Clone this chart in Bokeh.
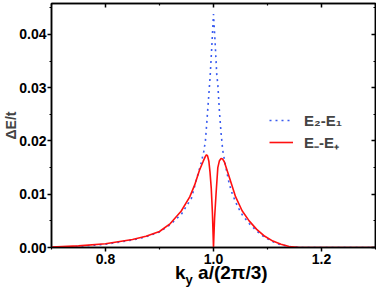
from bokeh.plotting import figure
from bokeh.models import (Range1d, LinearAxis, FixedTicker, NumeralTickFormatter,
                          Legend, LegendItem, Div)
from bokeh.layouts import column
from bokeh.embed import file_html
from bokeh.resources import INLINE

# E2-E1 (blue dotted)
kx_b = [0.70, 0.75, 0.80, 0.85, 0.875, 0.90, 0.92, 0.941, 0.950, 0.959, 0.968, 0.9775, 0.9805,
        0.982, 0.985, 0.988, 0.9927, 0.994, 0.997, 1.000, 1.003, 1.006, 1.008, 1.011,
        1.014, 1.017, 1.022, 1.029, 1.035, 1.045, 1.054, 1.066, 1.08, 1.095, 1.11,
        1.125, 1.14, 1.16, 1.20, 1.25, 1.30]
de_b = [0.0000, 0.0002, 0.0006, 0.0014, 0.0020, 0.0029, 0.0043, 0.0063, 0.0078, 0.0092, 0.0126,
        0.0160, 0.0174, 0.0180, 0.0200, 0.0240, 0.0306, 0.0325, 0.0380, 0.0438, 0.0385,
        0.0325, 0.0306, 0.0255, 0.0215, 0.0183, 0.0155, 0.0120, 0.0100, 0.0076, 0.0060,
        0.0045, 0.0031, 0.0019, 0.0011, 0.0005, 0.0002, 0.0000, 0.0000, 0.0000, 0.0000]

# E- - E+ (red solid)
kx_r = [0.70, 0.75, 0.80, 0.85, 0.875, 0.90, 0.92, 0.94, 0.956, 0.965, 0.974, 0.981, 0.985,
        0.987, 0.989, 0.9914, 0.9935, 0.9958, 0.998, 1.000, 1.002, 1.005, 1.008, 1.011,
        1.014, 1.017, 1.020, 1.029, 1.041, 1.053, 1.066, 1.08, 1.095, 1.11, 1.125, 1.14,
        1.16, 1.20, 1.25, 1.30]
de_r = [0.0001, 0.0003, 0.0007, 0.0015, 0.0021, 0.0030, 0.0045, 0.0068, 0.0095, 0.0117, 0.0145,
        0.0162, 0.0171, 0.0174, 0.0172, 0.0162, 0.0142, 0.0112, 0.0065, 0.0000, 0.0055,
        0.0105, 0.0150, 0.0163, 0.0167, 0.0166, 0.0161, 0.0133, 0.0095, 0.0069, 0.0050,
        0.0034, 0.0021, 0.0012, 0.0006, 0.0002, 0.0000, 0.0000, 0.0000, 0.0000]

x_major = [0.8, 1.0, 1.2]
x_minor = [0.7, 0.9, 1.1, 1.3]
y_major = [0.00, 0.01, 0.02, 0.03, 0.04]
y_minor = [0.005, 0.015, 0.025, 0.035, 0.045]
labels = ["E\u2082-E\u2081", "E\u208b-E\u208a"]

FONT = "Liberation Sans"

p = figure(output_backend="svg", toolbar_location=None,
           frame_width=324, frame_height=244,
           min_border_left=49, min_border_right=1, min_border_top=3, min_border_bottom=20,
           x_range=Range1d(0.7, 1.3), y_range=Range1d(0.0, 0.0458),
           x_axis_location=None, y_axis_location=None, margin=(0, 0, 0, 0))
p.grid.visible = False
p.outline_line_color = "black"
p.outline_line_width = 1.5
p.background_fill_color = "white"
p.border_fill_color = "white"

def style(ax, major, minor, fmt, labels_on, inward):
    ax.ticker = FixedTicker(ticks=major, minor_ticks=minor)
    ax.formatter = NumeralTickFormatter(format=fmt)
    ax.axis_line_width = 1.5
    ax.major_tick_line_width = 1.5
    ax.minor_tick_line_width = 1.2
    if inward:
        ax.major_tick_in = 4
        ax.major_tick_out = 0
        ax.minor_tick_in = 2
        ax.minor_tick_out = 0
    else:
        ax.major_tick_in = 0
        ax.major_tick_out = 4
        ax.minor_tick_in = 0
        ax.minor_tick_out = 2
    ax.major_label_text_font = FONT
    ax.major_label_text_font_style = "bold"
    ax.major_label_text_font_size = "14px"
    ax.major_label_text_color = "black"
    if not labels_on:
        ax.major_label_text_alpha = 0
        ax.major_label_text_font_size = "0px"
        ax.major_label_standoff = 0

xb = LinearAxis()
style(xb, x_major, x_minor, "0.0", True, False)
xb.major_label_standoff = 2
p.add_layout(xb, "below")

yl = LinearAxis(axis_label="\u0394E/t")
style(yl, y_major, y_minor, "0.00", True, False)
yl.major_label_standoff = 1
yl.axis_label_text_font = FONT
yl.axis_label_text_font_style = "bold"
yl.axis_label_text_font_size = "14px"
yl.axis_label_standoff = -3
p.add_layout(yl, "left")

xt = LinearAxis()
style(xt, x_major, x_minor, "0.0", False, True)
p.add_layout(xt, "above")

yr = LinearAxis()
style(yr, y_major, y_minor, "0.00", False, True)
p.add_layout(yr, "right")

rb = p.line(kx_b, de_b, line_color="#3a5cf0", line_width=1.6, line_dash="2 4")
rr = p.line(kx_r, de_r, line_color="#ff1010", line_width=1.6)

leg = Legend(items=[LegendItem(label=labels[0], renderers=[rb]),
                    LegendItem(label=labels[1], renderers=[rr])],
             location=(216, 93), border_line_alpha=0, background_fill_alpha=0,
             glyph_width=24, glyph_height=20, label_height=20, spacing=2, padding=2,
             label_standoff=11, label_text_font=FONT, label_text_font_style="bold",
             label_text_font_size="15px", margin=0)
p.add_layout(leg, "center")

xlabel = Div(
    text='<span style="position:relative;top:-3px;padding-left:175px">k<sub style="font-size:13px;line-height:0">y</sub>'
         ' a/(2\u03c0/3)</span>',
    width=374, height=16, margin=(0, 0, 0, 0),
    styles={"font-family": FONT, "font-weight": "bold", "font-size": "19px",
            "line-height": "17px", "color": "black", "white-space": "nowrap"})

layout = column(p, xlabel, spacing=0)

open("out.html", "w").write(file_html(layout, INLINE))
